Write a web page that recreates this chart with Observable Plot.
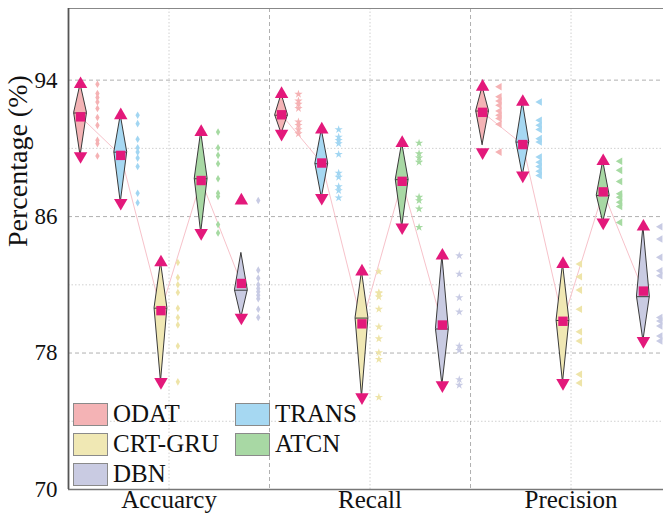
<!DOCTYPE html>
<html><head><meta charset="utf-8">
<script src="https://cdn.jsdelivr.net/npm/d3@7"></script>
<script src="https://cdn.jsdelivr.net/npm/@observablehq/plot@0.6"></script>
<style>
html,body{margin:0;padding:0;background:#fff;overflow:hidden;}
#wrap{position:relative;width:663px;height:519px;}
#wrap svg{display:block;}
#wrap, #wrap *, #wrap svg text{font-family:'Liberation Serif','DejaVu Serif','Noto Serif',Tinos,'Times New Roman',serif !important;}
.item{position:absolute;display:flex;align-items:center;height:24px;white-space:nowrap;font-size:25px;color:#111;}
.sw{width:35px;height:23px;border:1.5px solid #8a8a8a;box-sizing:border-box;margin-right:5px;}
</style></head><body>
<div id="wrap">
  <div id="chart"></div>
  <div id="legend"></div>
</div>
<script>
const models = ["ODAT","TRANS","CRT-GRU","ATCN","DBN"];
const metrics = ["Accuarcy","Recall","Precision"];
const yTicks = [70,78,86,94];
const fillColors = ["#F4B3B5","#A6D8F2","#F0E8B4","#A8D8A4","#C9CBE2"];
const pointColors = ["#F5B2B4","#A2D6F2","#EEE4A8","#A6DAA2","#C8CBE4"];

const accuracyValues = [
  [93.76, 93.22, 92.98, 92.72, 92.34, 91.81, 91.35, 90.47, 90.28, 89.55],
  [91.94, 91.45, 90.53, 90.04, 89.78, 89.43, 88.94, 87.37, 86.81],
  [83.31, 82.43, 82.0, 81.55, 80.63, 80.08, 79.65, 78.41, 76.31],
  [90.96, 90.04, 89.59, 89.10, 88.22, 87.37, 87.18, 85.53, 85.04],
  [86.94, 82.86, 82.39, 82.0, 81.78, 81.59, 81.39, 81.19, 80.57, 80.08]
];
const recallValues = [
  [93.18, 92.78, 92.59, 92.34, 91.55, 91.35, 91.10, 90.86],
  [91.10, 90.66, 90.47, 90.28, 89.65, 88.55, 88.31, 87.76, 87.53, 87.10],
  [82.78, 81.55, 81.5, 81.29, 80.57, 79.53, 78.84, 78.02, 77.63, 75.41],
  [90.31, 89.69, 89.45, 89.19, 87.14, 86.94, 86.45, 85.37],
  [83.71, 82.63, 81.25, 80.41, 78.41, 78.16, 76.45, 76.12]
];
const precisionValues = [
  [93.61, 93.02, 92.78, 92.53, 92.19, 91.94, 91.75, 91.41, 89.78],
  [92.72, 91.65, 91.35, 91.10, 90.57, 90.37, 89.49, 89.19, 88.94, 88.66, 88.41],
  [83.22, 82.47, 81.69, 80.57, 79.25, 78.71, 76.75, 76.25],
  [89.25, 88.71, 88.06, 87.34, 87.14, 86.84, 86.59, 85.66],
  [85.41, 84.69, 83.61, 82.82, 82.53, 80.08, 79.88, 79.59, 79.0, 78.71]
];
const allValues = [accuracyValues, recallValues, precisionValues];

// layout in x units: each metric group spans 5 units
const groupW = 5, offset = 0.3, ptOff = 0.42, halfW = 0.16;
const points = [], stats = [], kite = [];
allValues.forEach((grp, g) => {
  grp.forEach((vals, j) => {
    const c = g * groupW + offset + j;
    vals.forEach(v => points.push({g, j, x: c + ptOff, y: v}));
    const s = vals.slice().sort(d3.ascending);
    const q1 = d3.quantile(s, 0.25), q3 = d3.quantile(s, 0.75), iqr = q3 - q1;
    const lo = Math.max(d3.min(s), q1 - 1.5 * iqr), hi = Math.min(d3.max(s), q3 + 1.5 * iqr);
    const med = d3.median(s);
    const key = g + "-" + j;
    stats.push({g, j, x: c, mean: d3.mean(s), min: d3.min(s), max: d3.max(s), med});
    kite.push({key, j, y: lo, x1: c, x2: c});
    kite.push({key, j, y: med, x1: c - halfW, x2: c + halfW});
    kite.push({key, j, y: hi, x1: c, x2: c});
  });
});

const yTop = 98.2;
const magenta = "#E3197B";
const font = "'Liberation Serif','DejaVu Serif','Noto Serif',Tinos,serif";

const plot = Plot.plot({
  width: 663, height: 519,
  marginLeft: 68, marginRight: 0, marginTop: 8, marginBottom: 30,
  x: {domain: [0, 14.8], axis: null},
  y: {domain: [70, yTop], axis: null},
  color: {type: "identity"},
  style: {background: "#fff", overflow: "visible", fontFamily: font},
  marks: [
    Plot.ruleY([94, 86, 78], {stroke: "#b0b0b0", strokeDasharray: "4,3"}),
    Plot.ruleY([90, 82, 74], {stroke: "#d0d0d0", strokeDasharray: "1.5,2"}),
    Plot.ruleX([groupW, 2 * groupW], {stroke: "#b0b0b0", strokeDasharray: "4,3"}),
    Plot.ruleX(metrics.map((m, i) => i * groupW + groupW / 2), {stroke: "#d0d0d0", strokeDasharray: "1.5,2"}),
    Plot.ruleY([70], {stroke: "#777", strokeWidth: 1.5}),
    Plot.ruleY([yTop], {stroke: "#888", strokeWidth: 1.2}),
    Plot.ruleX([0], {stroke: "#555", strokeWidth: 1.8}),
    Plot.line(stats, {x: "x", y: "mean", z: "g", stroke: "#F7C2CA", strokeWidth: 1}),
    Plot.areaX(kite, {y: "y", x1: "x1", x2: "x2", z: "key", fill: d => fillColors[d.j], stroke: "#3a3a3a", strokeWidth: 1}),
    Plot.ruleY(stats, {y: "med", x1: d => d.x - halfW, x2: d => d.x + halfW, stroke: "#3a3a3a", strokeWidth: 1}),
    Plot.dot(points.filter(d => d.g === 0), {x: "x", y: "y", symbol: "diamond", r: 2.3, fill: d => pointColors[d.j]}),
    Plot.dot(points.filter(d => d.g === 1), {x: "x", y: "y", symbol: "star", r: 2.6, fill: d => pointColors[d.j]}),
    Plot.dot(points.filter(d => d.g === 2), {x: "x", y: "y", symbol: "triangle", rotate: -90, r: 2.8, fill: d => pointColors[d.j]}),
    Plot.dot(stats, {x: "x", y: "max", symbol: "triangle", r: 5, fill: magenta}),
    Plot.dot(stats, {x: "x", y: "min", symbol: "triangle", rotate: 180, r: 5, fill: magenta}),
    Plot.dot(stats, {x: "x", y: "mean", symbol: "square", r: 5.3, fill: magenta}),
    Plot.text(yTicks, {y: d => d, frameAnchor: "left", dx: -11, textAnchor: "end", fontSize: 23, fontFamily: font, fill: "#111"}),
    Plot.text(metrics, {x: (d, i) => i * groupW + groupW / 2, frameAnchor: "bottom", dy: 18, fontSize: 25, fontFamily: font, fill: "#111"}),
    Plot.text(["Percentage (%)"], {frameAnchor: "left", dx: -50, dy: -2, rotate: -90, fontSize: 28, fontFamily: font, fill: "#111"})
  ]
});
document.getElementById("chart").appendChild(plot);

// legend inside the plot area
const leg = document.getElementById("legend");
const pos = [[73, 402], [235, 402], [73, 432], [235, 432], [73, 462]];
models.forEach((m, i) => {
  const it = document.createElement("div");
  it.className = "item";
  it.style.left = pos[i][0] + "px";
  it.style.top = pos[i][1] + "px";
  const sw = document.createElement("div");
  sw.className = "sw";
  sw.style.background = fillColors[i];
  const t = document.createElement("span");
  t.textContent = m;
  it.appendChild(sw); it.appendChild(t);
  leg.appendChild(it);
});
</script></body></html>
